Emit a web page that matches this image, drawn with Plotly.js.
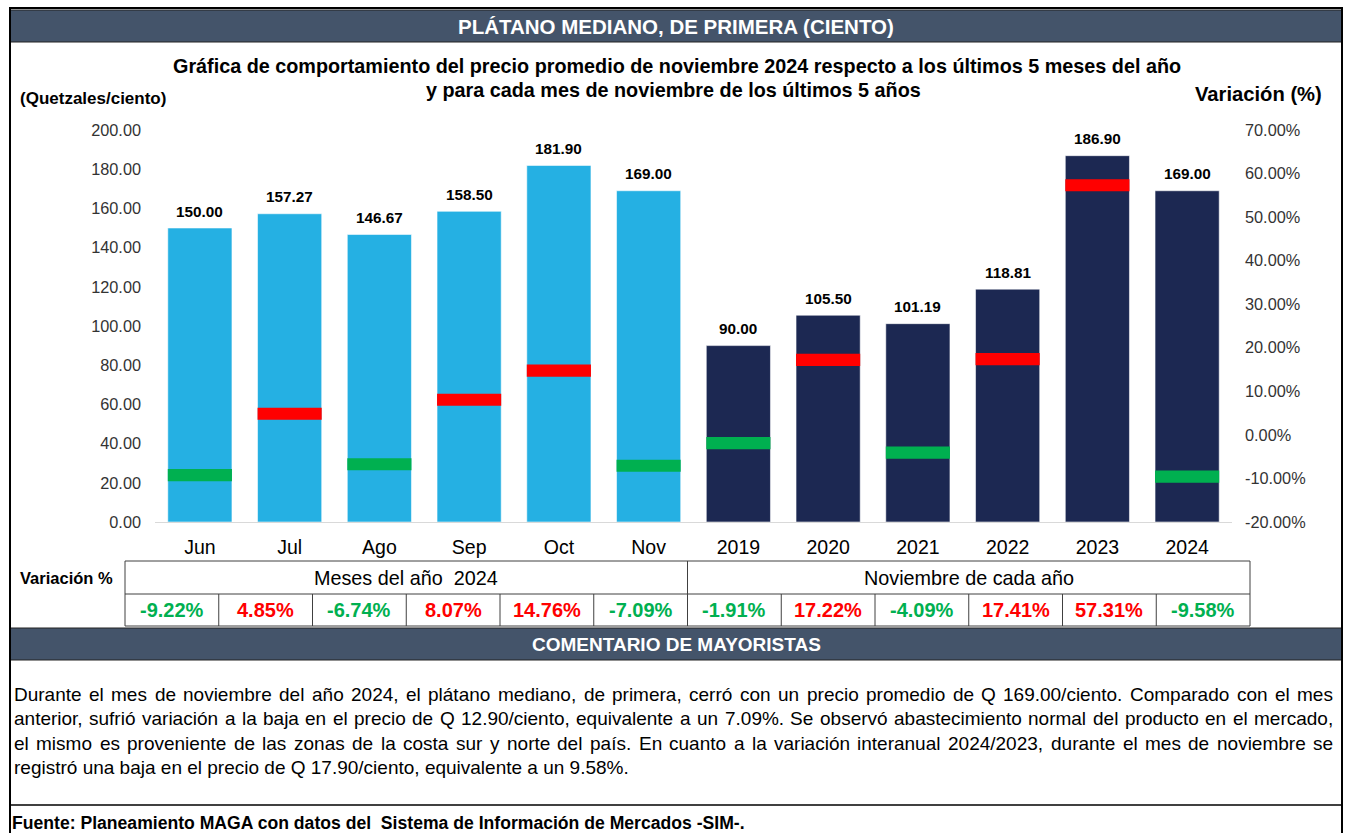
<!DOCTYPE html>
<html>
<head>
<meta charset="utf-8">
<script src="https://cdn.plot.ly/plotly-3.0.1.min.js"></script>
<style>
html, body { margin: 0; padding: 0; background: #fff; }
#chart { width: 1346px; height: 833px; }
</style>
</head>
<body>
<div id="chart"></div>
<script>
// datos
var categories = ['Jun', 'Jul', 'Ago', 'Sep', 'Oct', 'Nov', '2019', '2020', '2021', '2022', '2023', '2024'];
var prices = [150.00, 157.27, 146.67, 158.50, 181.90, 169.00, 90.00, 105.50, 101.19, 118.81, 186.90, 169.00];
var variation = [-9.22, 4.85, -6.74, 8.07, 14.76, -7.09, -1.91, 17.22, -4.09, 17.41, 57.31, -9.58];
var groupLabels = ['Meses del año  2024', 'Noviembre de cada año'];
var leftTicks = [0, 20, 40, 60, 80, 100, 120, 140, 160, 180, 200];
var rightTicks = [-20, -10, 0, 10, 20, 30, 40, 50, 60, 70];
var commentLines = [
  'Durante el mes de noviembre del año 2024, el plátano mediano, de primera, cerró con un precio promedio de Q 169.00/ciento. Comparado con el mes',
  'anterior, sufrió variación a la baja en el precio de Q 12.90/ciento, equivalente a un 7.09%. Se observó abastecimiento normal del producto en el mercado,',
  'el mismo es proveniente de las zonas de la costa sur y norte del país. En cuanto a la variación interanual 2024/2023, durante el mes de noviembre se',
  'registró una baja en el precio de Q 17.90/ciento, equivalente a un 9.58%.'
];

var W = 1346, H = 833;
var FONT = '"Liberation Sans", Arial, sans-serif';
var SLATE = '#44546A';
var GREEN = '#00B050', RED = '#FF0000';

function px(x) { return x / W; }
function py(y) { return 1 - y / H; }

var barColors = categories.map(function (c, i) { return i < 6 ? '#25B0E3' : '#1C2852'; });
var varColors = variation.map(function (v) { return v < 0 ? GREEN : RED; });
var markH = 2.8;

var data = [
  {
    type: 'bar',
    x: categories,
    y: prices,
    marker: { color: barColors, line: { color: 'rgba(255,255,255,0.55)', width: 1 } },
    hoverinfo: 'x+y'
  },
  {
    type: 'bar',
    x: categories,
    y: variation.map(function () { return markH; }),
    base: variation.map(function (v) { return v - markH / 2; }),
    yaxis: 'y2',
    marker: { color: varColors },
    hoverinfo: 'skip'
  }
];

var shapes = [];
var annotations = [];

function rect(x0, y0, x1, y1, fill, lineColor, lw) {
  shapes.push({
    type: 'rect', xref: 'paper', yref: 'paper',
    x0: px(x0), x1: px(x1), y0: py(y1), y1: py(y0),
    fillcolor: fill || 'rgba(0,0,0,0)',
    line: { color: lineColor || 'rgba(0,0,0,0)', width: lw || 0 },
    layer: 'above'
  });
}
function hline(x0, x1, y, color, lw) {
  shapes.push({ type: 'line', xref: 'paper', yref: 'paper', x0: px(x0), x1: px(x1), y0: py(y), y1: py(y),
    line: { color: color, width: lw }, layer: 'above' });
}
function vline(x, y0, y1, color, lw) {
  shapes.push({ type: 'line', xref: 'paper', yref: 'paper', x0: px(x), x1: px(x), y0: py(y0), y1: py(y1),
    line: { color: color, width: lw }, layer: 'above' });
}
function label(text, x, y, size, opts) {
  opts = opts || {};
  annotations.push({
    xref: 'paper', yref: 'paper', x: px(x), y: py(y),
    xanchor: opts.xanchor || 'center', yanchor: 'middle',
    text: opts.bold ? '<b>' + text + '</b>' : text,
    showarrow: false,
    font: { family: FONT, size: size, color: opts.color || '#000' }
  });
}

// bandas de encabezado
rect(10, 10, 1342, 42, SLATE, '#222', 1);
label('PLÁTANO MEDIANO, DE PRIMERA (CIENTO)', 676, 26, 20.5, { bold: true, color: '#fff' });
rect(10, 628, 1342, 660, SLATE, '#222', 1);
label('COMENTARIO DE MAYORISTAS', 676, 644, 19, { bold: true, color: '#fff' });

// borde exterior
rect(10, 8, 1342, 850, null, '#000', 2);

// titulos
label('Gráfica de comportamiento del precio promedio de noviembre 2024 respecto a los últimos 5 meses del año', 677, 66, 19.8, { bold: true });
label('y para cada mes de noviembre de los últimos 5 años', 673, 90, 19.8, { bold: true });
label('(Quetzales/ciento)', 18, 98, 17, { bold: true, xanchor: 'left' });
label('Variación (%)', 1324, 94, 20.2, { bold: true, xanchor: 'right' });

// etiquetas de datos (x por indice de categoria)
prices.forEach(function (p, i) {
  annotations.push({
    xref: 'x', yref: 'y', x: i, y: p, yanchor: 'middle', yshift: 17,
    text: '<b>' + p.toFixed(2) + '</b>', showarrow: false,
    font: { family: FONT, size: 15.3, color: '#000' }
  });
});

// tabla de variaciones
var tL = 125, tR = 1250, tTop = 561, tMid = 594, tBot = 626;
var colW = (tR - tL) / categories.length;
rect(tL, tTop, tR, tBot, null, '#404040', 1);
hline(tL, tR, tMid, '#404040', 1);
vline(tL + colW * 6, tTop, tBot, '#404040', 1);
for (var c = 1; c < categories.length; c++) {
  if (c !== 6) vline(tL + colW * c, tMid, tBot, '#404040', 1);
}
label('Variación %', 66, 578, 16.5, { bold: true });
label(groupLabels[0], tL + colW * 3, 578, 19.8);
label(groupLabels[1], tL + colW * 9, 578, 19.8);
variation.forEach(function (v, i) {
  label(v.toFixed(2) + '%', tL + colW * (i + 0.5), 610, 20, { bold: true, color: varColors[i] });
});

// comentario, justificado a ambos lados salvo la ultima linea
var CSIZE = 19;
var measureCtx = document.createElement('canvas').getContext('2d');
function textWidth(t, size) {
  measureCtx.font = size + 'px ' + FONT;
  return measureCtx.measureText(t).width;
}
var textLeft = 12, textRight = 1335;
commentLines.forEach(function (t, i) {
  var y = 694 + i * 24.6;
  if (i === commentLines.length - 1) {
    label(t, textLeft, y, CSIZE, { xanchor: 'left' });
    return;
  }
  var words = t.split(' ');
  var widths = words.map(function (w) { return textWidth(w, CSIZE); });
  var total = widths.reduce(function (a, b) { return a + b; }, 0);
  var gap = (textRight - textLeft - 4 - total) / (words.length - 1);
  var x = textLeft;
  words.forEach(function (w, k) {
    label(w, x, y, CSIZE, { xanchor: 'left' });
    x += widths[k] + gap;
  });
});
hline(10, 1342, 805, '#000', 1.5);
label('Fuente: Planeamiento MAGA con datos del  Sistema de Información de Mercados -SIM-.', 10, 823, 17.6, { bold: true, xanchor: 'left' });

var layout = {
  width: W, height: H,
  margin: { l: 0, r: 0, t: 0, b: 0 },
  paper_bgcolor: '#fff', plot_bgcolor: '#fff',
  showlegend: false,
  barmode: 'overlay',
  bargap: 0.285,
  xaxis: {
    domain: [px(155), px(1232)],
    type: 'category',
    range: [-0.5, categories.length - 0.5],
    showline: true, linecolor: '#d9d9d9', linewidth: 1,
    showgrid: false, zeroline: false,
    ticks: '', ticklabelstandoff: 8,
    tickfont: { family: FONT, size: 19.5, color: '#000' }
  },
  yaxis: {
    domain: [py(522), py(130)],
    range: [0, 200],
    tickvals: leftTicks,
    ticktext: leftTicks.map(function (v) { return v.toFixed(2); }),
    showgrid: false, zeroline: false, showline: false,
    ticks: '', ticklabelstandoff: 13,
    tickfont: { family: FONT, size: 16.3, color: '#333' }
  },
  yaxis2: {
    overlaying: 'y', side: 'right',
    range: [-20, 70],
    tickvals: rightTicks,
    ticktext: rightTicks.map(function (v) { return v.toFixed(2) + '%'; }),
    showgrid: false, zeroline: false, showline: false,
    ticks: '', ticklabelstandoff: 12,
    tickfont: { family: FONT, size: 16.3, color: '#333' }
  },
  shapes: shapes,
  annotations: annotations
};

Plotly.newPlot('chart', data, layout, { displayModeBar: false, staticPlot: true });
</script>
</body>
</html>
